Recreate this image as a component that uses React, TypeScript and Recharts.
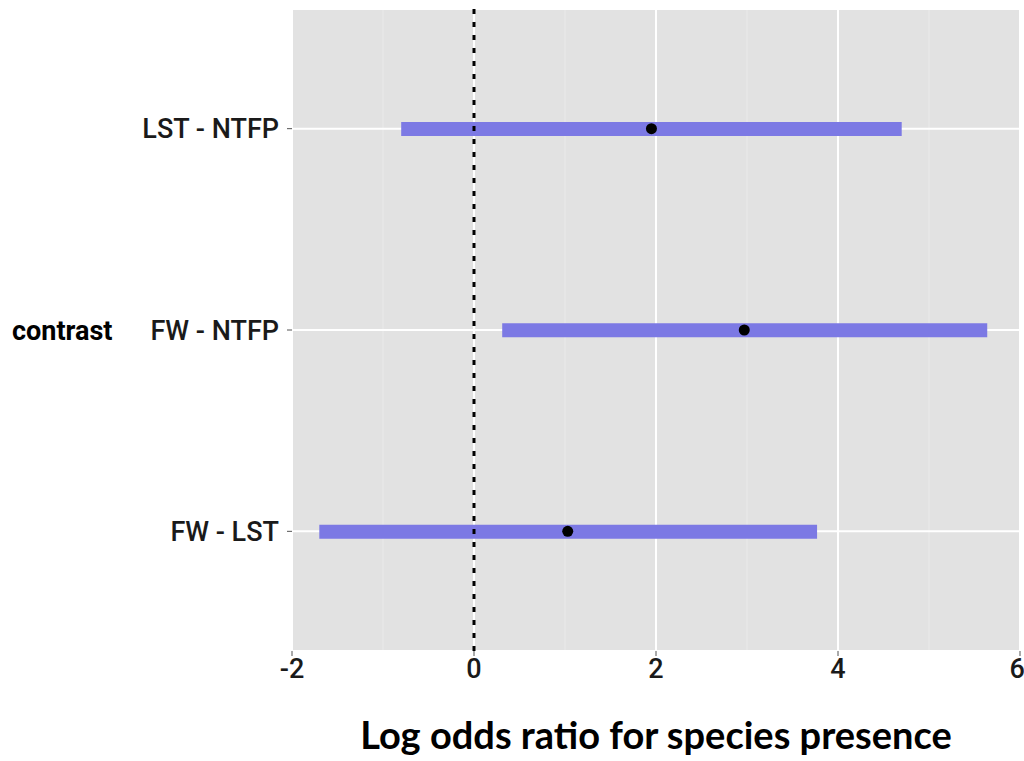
import {
  ComposedChart,
  Bar,
  Scatter,
  XAxis,
  YAxis,
  CartesianGrid,
  ReferenceLine,
} from "recharts";

// contrasts, top to bottom
const contrasts = ["LST - NTFP", "FW - NTFP", "FW - LST"];
const lower = [-0.8, 0.31, -1.7];
const upper = [4.7, 5.64, 3.77];
const estimate = [1.95, 2.97, 1.03];

const majorTicks = [-2, 0, 2, 4, 6];
const minorTicks = [-1, 1, 3, 5];

const data = contrasts.map((name, i) => ({
  name,
  range: [lower[i], upper[i]],
  est: estimate[i],
}));

const Dot = (props: any) => {
  if (props.cx == null || props.cy == null) return null;
  return <circle cx={props.cx} cy={props.cy} r={5.5} fill="#000" />;
};

const tickFont = { fill: "#1a1a1a", fontSize: 27, fontWeight: 500, fontFamily: "Roboto, sans-serif" };

const App = () => {
  return (
    <div style={{ position: "absolute", left: 0, top: 0, background: "#fff" }}>
      <ComposedChart
        width={1024}
        height={761}
        data={data}
        layout="vertical"
        margin={{ top: 9, right: 4, left: 0, bottom: 0 }}
      >
        <CartesianGrid
          xAxisId="minor"
          horizontal={false}
          fill="#e2e2e2"
          stroke="#eaeaea"
          strokeWidth={1}
        />
        <CartesianGrid stroke="#ffffff" strokeWidth={2} />
        <XAxis
          type="number"
          domain={[-2, 6]}
          ticks={majorTicks}
          allowDataOverflow
          axisLine={false}
          tickLine={{ stroke: "#555" }}
          tickSize={5}
          tickMargin={3}
          height={110}
          tick={tickFont}
          label={{
            value: "Log odds ratio for species presence",
            position: "insideBottom",
            offset: 12,
            style: {
              fill: "#000",
              fontSize: 38,
              fontWeight: 700,
              fontFamily: "Lato, sans-serif",
            },
          }}
        />
        <XAxis
          xAxisId="minor"
          type="number"
          domain={[-2, 6]}
          ticks={minorTicks}
          allowDataOverflow
          hide
        />
        <YAxis
          type="category"
          dataKey="name"
          width={292}
          axisLine={false}
          tickLine={{ stroke: "#555" }}
          tickSize={5}
          tickMargin={8}
          padding={{ top: 19, bottom: 19 }}
          tick={tickFont}
          label={{
            value: "contrast",
            position: "insideLeft",
            offset: 12,
            style: {
              fill: "#000",
              fontSize: 27,
              fontWeight: 700,
              fontFamily: "Roboto, sans-serif",
            },
          }}
        />
        <Bar
          dataKey="range"
          fill="#7c79e4"
          barSize={14}
          isAnimationActive={false}
        />
        <ReferenceLine
          x={0}
          stroke="#000"
          strokeWidth={3}
          strokeDasharray="5 8"
        />
        <Scatter dataKey="est" shape={Dot} isAnimationActive={false} />
      </ComposedChart>
    </div>
  );
};

export default App;
